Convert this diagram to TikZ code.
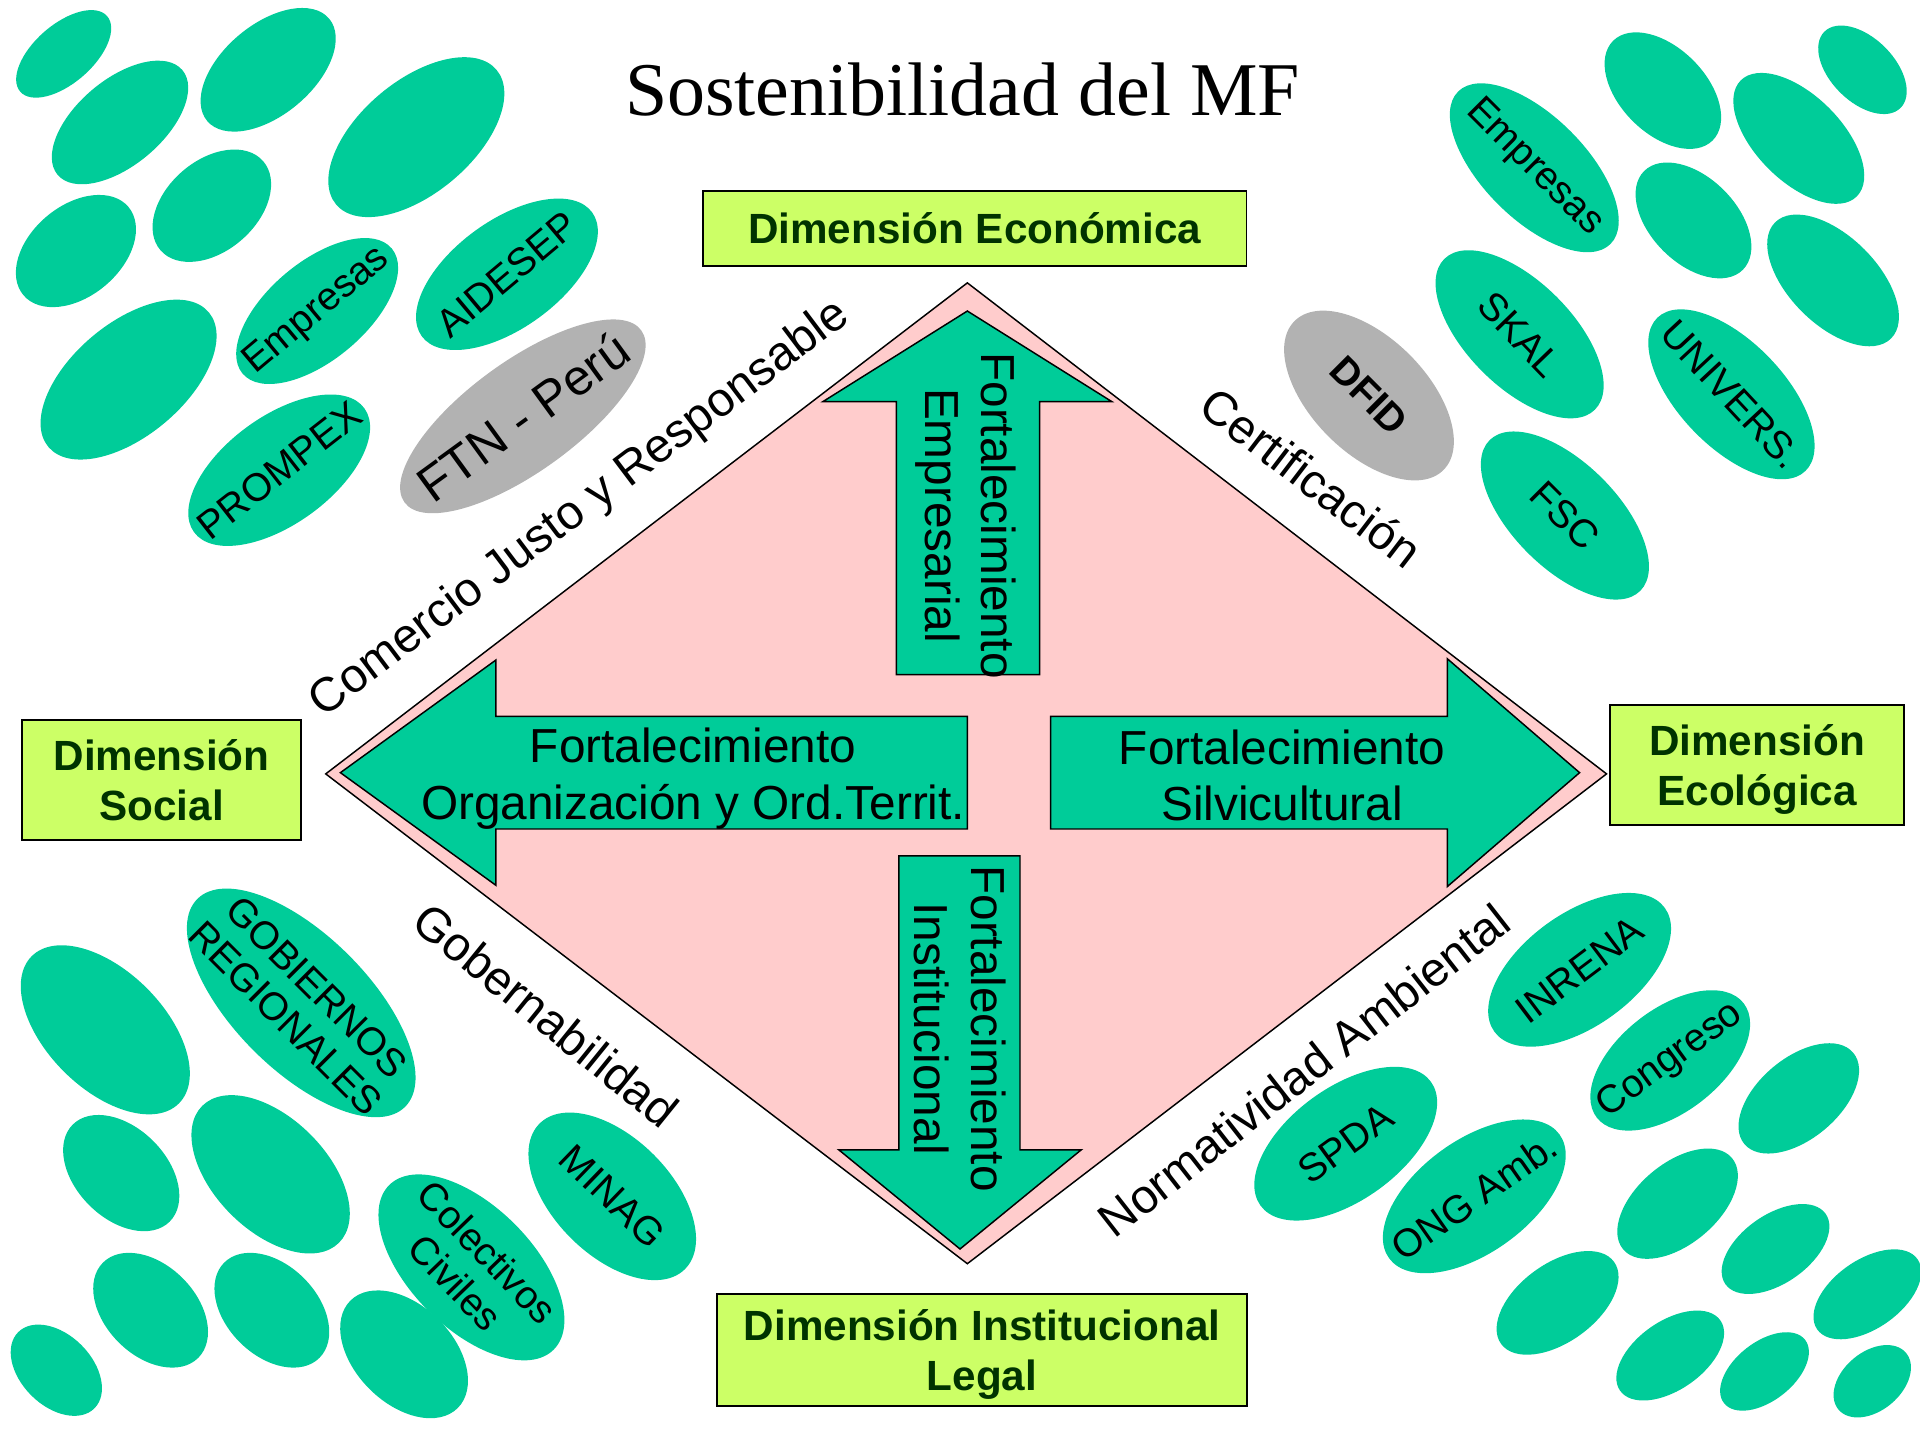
\documentclass[tikz,border=0pt]{standalone}
\usepackage{fontspec}
\setmainfont{Liberation Sans}
\newfontfamily\titlefont{Liberation Serif}
\usepackage{tikz}
\usetikzlibrary{shapes.geometric}

\definecolor{leaf}{RGB}{0,204,153}
\definecolor{stone}{RGB}{178,178,178}
\definecolor{blush}{RGB}{255,204,204}
\definecolor{lime}{RGB}{204,255,102}
\definecolor{dkgreen}{RGB}{0,51,0}

\tikzset{
  blob/.style={ellipse, fill=leaf, inner sep=0pt},
  greyblob/.style={blob, fill=stone},
  blobtext/.style={align=center, inner sep=0pt, font=\fontsize{32}{36}\selectfont},
  dimbox/.style={draw, fill=lime, line width=1.5pt, inner sep=2pt, text=dkgreen,
    align=center, font=\fontsize{34.5}{41}\selectfont\bfseries},
  sidelabel/.style={inner sep=0pt, font=\fontsize{39}{46}\selectfont},
  bigarrow/.style={fill=leaf, draw=black, line width=1.2pt},
  arrowtext/.style={align=center, inner sep=0pt, font=\fontsize{39}{46}\selectfont},
}

\begin{document}
\begin{tikzpicture}[x=1pt,y=-1pt]
\useasboundingbox (0,0) rectangle (1568,1176);

% title
\node[font=\titlefont\fontsize{62}{72}\selectfont, anchor=base] (title) at (786,94) {Sostenibilidad del MF};

% plain ellipses of the four corners
\foreach \x/\y/\w/\h/\r [count=\i] in {%
    52/44/94/48/41, 98/100/133/70/40, 219/57/130/74/40, 173/168/111/74/41,
    340/112/171/92/40, 62/205/112/74/40, 105/310/171/92/40,
    1358/74/115/70/-45, 1521/57/88/52/-45, 1469/113/134/70/-45,
    1383/180/114/70/-45, 1497/229/134/72/-45,
    86/841/170/96/-45, 99/958/112/74/-45, 221/959/158/92/-45,
    123/1070/110/74/-45, 222/1070/110/74/-45, 330/1106/124/80/-45, 46/1119/88/58/-45,
    1469/897/116/66/40, 1370/983/116/66/40, 1272/1064/114/64/36,
    1450/1020/100/56/35, 1525/1057/100/56/35, 1364/1107/100/56/35,
    1441/1120/84/48/38, 1529/1128/72/48/40} {%
  \node[blob, minimum width=\w, minimum height=\h, rotate=\r] (spot\i) at (\x,\y) {};
}

% named ellipses, top left
\node[blob, minimum width=159, minimum height=80, rotate=40] (empresasTL) at (259,254) {};
\node[blobtext, rotate=40] (empresasTL-txt) at (empresasTL) {Empresas};
\node[blob, minimum width=172, minimum height=88, rotate=36] (aidesep) at (414,224) {};
\node[blobtext, rotate=40] (aidesep-txt) at (aidesep) {AIDESEP};
\node[blob, minimum width=172, minimum height=88, rotate=36] (prompex) at (228,384) {};
\node[blobtext, rotate=38] (prompex-txt) at (prompex) {PROMPEX};
\node[greyblob, minimum width=239, minimum height=90, rotate=36] (ftn) at (427,340) {};
\node[blobtext, rotate=36, font=\fontsize{41}{46}\selectfont] (ftn-txt) at (ftn) {FTN - Perú};

% named ellipses, top right
\node[blob, minimum width=176, minimum height=84, rotate=-45] (empresasTR) at (1253,137) {};
\node[blobtext, rotate=-45] (empresasTR-txt) at (empresasTR) {Empresas};
\node[blob, minimum width=174, minimum height=86, rotate=-45] (skal) at (1241,273) {};
\node[blobtext, rotate=-46] (skal-txt) at (skal) {SKAL};
\node[greyblob, minimum width=172, minimum height=94, rotate=-45] (dfid) at (1118,323) {};
\node[blobtext, rotate=-45, font=\fontsize{32}{36}\selectfont\bfseries] (dfid-txt) at (dfid) {DFID};
\node[blob, minimum width=174, minimum height=86, rotate=-46] (univers) at (1414,322) {};
\node[blobtext, rotate=-47] (univers-txt) at (univers) {UNIVERS.};
\node[blob, minimum width=174, minimum height=86, rotate=-45] (fsc) at (1278,421) {};
\node[blobtext, rotate=-45] (fsc-txt) at (fsc) {FSC};

% named ellipses, bottom left
\node[blob, minimum width=240, minimum height=110, rotate=-45] (gobiernos) at (246,819) {};
\node[blobtext, rotate=-45] (gobiernos-txt) at (gobiernos) {GOBIERNOS\\REGIONALES};
\node[blob, minimum width=190, minimum height=100, rotate=-45] (colectivos) at (385,1035) {};
\node[blobtext, rotate=-46] (colectivos-txt) at (colectivos) {Colectivos\\Civiles};
\node[blob, minimum width=168, minimum height=96, rotate=-45] (minag) at (500,977) {};
\node[blobtext, rotate=-44] (minag-txt) at (minag) {MINAG};

% named ellipses, bottom right
\node[blob, minimum width=172, minimum height=92, rotate=36] (inrena) at (1290,792) {};
\node[blobtext, rotate=37] (inrena-txt) at (inrena) {INRENA};
\node[blob, minimum width=152, minimum height=84, rotate=38] (congreso) at (1364,866) {};
\node[blobtext, rotate=36] (congreso-txt) at (congreso) {Congreso};
\node[blob, minimum width=172, minimum height=92, rotate=36] (spda) at (1099,934) {};
\node[blobtext, rotate=36] (spda-txt) at (spda) {SPDA};
\node[blob, minimum width=172, minimum height=92, rotate=36] (ongamb) at (1204,977) {};
\node[blobtext, rotate=35] (ongamb-txt) at (ongamb) {ONG Amb.};

% the diamond
\draw[fill=blush, line width=1.2pt] (790,231) -- (1312,632) -- (790,1032) -- (266,632) -- cycle;

% the four arrows
\draw[bigarrow] (790,254) -- (908,328) -- (849,328) -- (849,551) -- (732,551) -- (732,328) -- (672,328) -- cycle;
\draw[bigarrow] (784,1020) -- (685,939) -- (734,939) -- (734,699) -- (833,699) -- (833,939) -- (883,939) -- cycle;
\draw[bigarrow] (278,631) -- (405,539) -- (405,585) -- (790,585) -- (790,677) -- (405,677) -- (405,723) -- cycle;
\draw[bigarrow] (1290,631) -- (1182,538) -- (1182,585) -- (858,585) -- (858,677) -- (1182,677) -- (1182,724) -- cycle;

\node[arrowtext, rotate=-90] (empresarial) at (789,421) {Fortalecimiento\\Empresarial};
\node[arrowtext, rotate=-90] (institucional) at (784,840) {Fortalecimiento\\Institucional};
\node[arrowtext] (organizacion) at (566,636) {Fortalecimiento\\Organización y Ord.Territ.};
\node[arrowtext] (silvicultural) at (1047,633) {Fortalecimiento\\Silvicultural};

% labels along the sides
\node[sidelabel, rotate=37] (comercio) at (474,416) {Comercio Justo y Responsable};
\node[sidelabel, rotate=-37.4] (certificacion) at (1071,390) {Certificación};
\node[sidelabel, rotate=-39] (gobernabilidad) at (446,829) {Gobernabilidad};
\node[sidelabel, rotate=38] (normatividad) at (1065,874) {Normatividad Ambiental};

% the four dimensions
\node[dimbox, minimum width=444, minimum height=61] (economica) at (796,186.5) {Dimensión Económica};
\node[dimbox, minimum width=228, minimum height=98] (social) at (132,637) {Dimensión\\Social};
\node[dimbox, minimum width=240, minimum height=98, text depth=-3pt] (ecologica) at (1435,625) {Dimensión\\Ecológica};
\node[dimbox, minimum width=433, minimum height=91, text depth=-18pt] (legal) at (802,1102.5) {Dimensión Institucional\\Legal};
\end{tikzpicture}
\end{document}
